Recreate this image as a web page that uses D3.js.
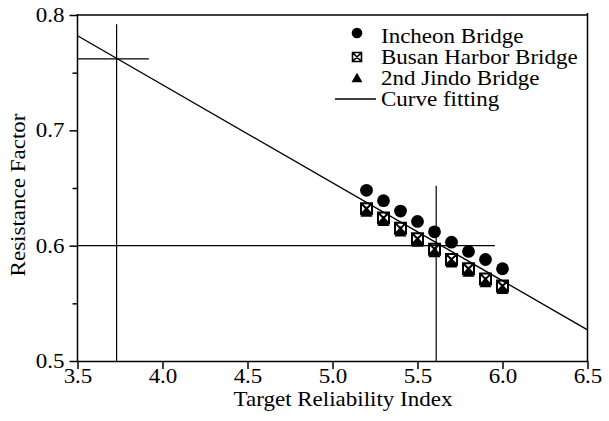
<!DOCTYPE html>
<meta charset="utf-8">
<style>
 body { margin: 0; background: #fff; }
 svg { display: block; }
 text {
   font-family: "Liberation Serif", "Times New Roman", serif;
   font-size: 20px;
   fill: #000;
 }
 .axis path, .axis line { stroke: #000; stroke-width: 1.5px; }
 .guide { stroke: #000; stroke-width: 1.2px; fill: none; }
 .fit { stroke: #000; stroke-width: 1.4px; fill: none; }
</style>
<svg width="609" height="421"></svg>
<script src="https://d3js.org/d3.v7.min.js"></script>
<script>

 // target reliability index on x, resistance factor on y
 var beta    = [5.2, 5.3, 5.4, 5.5, 5.6, 5.7, 5.8, 5.9, 6.0];
 var incheon = [0.648, 0.639, 0.630, 0.621, 0.612, 0.603, 0.595, 0.588, 0.580];
 var busan   = [0.632, 0.624, 0.615, 0.606, 0.597, 0.588, 0.580, 0.571, 0.565];
 var jindo   = [0.628, 0.620, 0.611, 0.602, 0.593, 0.584, 0.576, 0.567, 0.561];

 var fitLine = [[3.5, 0.782], [6.5, 0.527]];
 var guideLines = [
   [[3.73, 0.5], [3.73, 0.792]],
   [[3.5, 0.762], [3.92, 0.762]],
   [[5.61, 0.5], [5.61, 0.652]],
   [[3.5, 0.6], [5.955, 0.6]]
 ];

 var xTicks = [3.5, 4.0, 4.5, 5.0, 5.5, 6.0, 6.5];
 var yTicks = [0.5, 0.6, 0.7, 0.8];
 var yMinor = [0.55, 0.65, 0.75];

 var legendItems = ["Incheon Bridge", "Busan Harbor Bridge", "2nd Jindo Bridge", "Curve fitting"];

 var svg = d3.select("svg");
 var stretch = "scale(1.15,1)";

 var x = d3.scaleLinear().domain([3.5, 6.5]).range([77.5, 587.5]);
 var y = d3.scaleLinear().domain([0.5, 0.8]).range([361, 15]);

 var line = d3.line()
              .x(function(d) { return x(d[0]); })
              .y(function(d) { return y(d[1]); });

 // frame top and right
 svg.append("line").attr("class", "guide").style("stroke-width", "1.5px")
    .attr("x1", x(3.5)).attr("x2", x(6.5)).attr("y1", y(0.8)).attr("y2", y(0.8));
 svg.append("line").attr("class", "guide").style("stroke-width", "1.5px")
    .attr("x1", x(6.5)).attr("x2", x(6.5)).attr("y1", y(0.8) - 2).attr("y2", y(0.5));

 // axes
 var xAxis = svg.append("g")
                .attr("class", "axis")
                .attr("transform", "translate(0," + y(0.5) + ")")
                .call(d3.axisBottom(x).tickValues(xTicks).tickSize(8).tickSizeOuter(0)
                        .tickFormat(d3.format(".1f")));
 xAxis.selectAll("text")
      .attr("y", null).attr("dy", null)
      .attr("transform", "translate(0,22) " + stretch);

 var yAxis = svg.append("g")
                .attr("class", "axis")
                .attr("transform", "translate(" + x(3.5) + ",0)")
                .call(d3.axisLeft(y).tickValues(yTicks).tickSize(8).tickSizeOuter(0)
                        .tickFormat(d3.format(".1f")));
 yAxis.select(".domain").attr("d", "M0," + (y(0.8) - 1) + "V" + y(0.5));
 yAxis.selectAll("text")
      .attr("x", null).attr("dy", "0.33em")
      .attr("transform", "translate(-13,0) " + stretch);

 svg.append("g")
    .attr("class", "axis")
    .attr("transform", "translate(" + x(3.5) + ",0)")
    .call(d3.axisLeft(y).tickValues(yMinor).tickSize(5).tickFormat(""))
    .select(".domain").remove();

 svg.selectAll(".axis").attr("font-family", null).attr("font-size", null);

 // axis titles
 svg.append("text")
    .attr("text-anchor", "middle")
    .attr("transform", "translate(343,406) " + stretch)
    .text("Target Reliability Index");
 svg.append("text")
    .attr("text-anchor", "middle")
    .attr("transform", "translate(25,195) rotate(-90) " + stretch)
    .text("Resistance Factor");

 // guide lines
 svg.append("g")
    .selectAll("path")
    .data(guideLines)
    .enter().append("path")
    .attr("class", "guide")
    .attr("d", line);

 // fitted curve
 svg.append("path")
    .attr("class", "fit")
    .attr("d", line(fitLine));

 function boxX(s) {
   var h = s / 2;
   return "M" + -h + "," + -h + "H" + h + "V" + h + "H" + -h + "Z" +
          "M" + -h + "," + -h + "L" + h + "," + h +
          "M" + h + "," + -h + "L" + -h + "," + h;
 }
 var tri = d3.symbol().type(d3.symbolTriangle);

 // markers
 svg.append("g")
    .selectAll("path")
    .data(beta)
    .enter().append("path")
    .attr("transform", function(d, i) { return "translate(" + x(d) + "," + y(jindo[i]) + ")"; })
    .attr("d", tri.size(62)())
    .attr("fill", "#000");

 svg.append("g")
    .selectAll("path")
    .data(beta)
    .enter().append("path")
    .attr("transform", function(d, i) { return "translate(" + x(d) + "," + y(busan[i]) + ")"; })
    .attr("d", boxX(11))
    .attr("fill", "none")
    .attr("stroke", "#000")
    .attr("stroke-width", 2);

 svg.append("g")
    .selectAll("circle")
    .data(beta)
    .enter().append("circle")
    .attr("cx", function(d) { return x(d); })
    .attr("cy", function(d, i) { return y(incheon[i]); })
    .attr("r", 6.4)
    .attr("fill", "#000");

 // legend
 var legend = svg.append("g");
 legend.append("circle").attr("cx", 357).attr("cy", 33).attr("r", 5.3).attr("fill", "#000");
 legend.append("path").attr("transform", "translate(357,57)").attr("d", boxX(9))
       .attr("fill", "none").attr("stroke", "#000").attr("stroke-width", 1.6);
 legend.append("path").attr("transform", "translate(357,79)").attr("d", tri.size(52)())
       .attr("fill", "#000");
 legend.append("line").attr("class", "fit")
       .attr("x1", 335).attr("x2", 376).attr("y1", 99).attr("y2", 99);

 legend.selectAll("text")
       .data(legendItems)
       .enter().append("text")
       .attr("transform", function(d, i) { return "translate(381," + (43 + i * 21) + ") " + stretch; })
       .text(function(d) { return d; });
</script>
